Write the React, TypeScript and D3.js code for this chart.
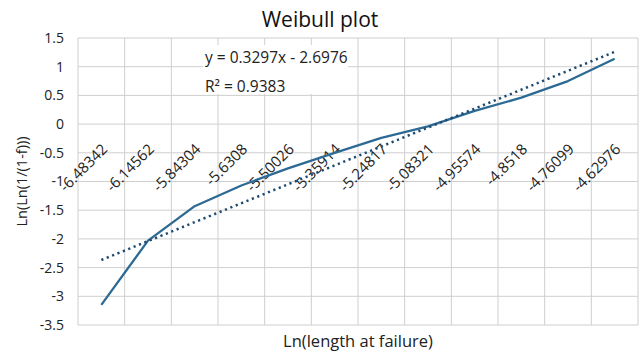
import * as d3 from 'd3'

// Weibull plot: category line + linear trendline
const categories = [
  '-6.48342', '-6.14562', '-5.84304', '-5.6308', '-5.50026', '-5.35914',
  '-5.24817', '-5.08321', '-4.95574', '-4.8518', '-4.76099', '-4.62976',
]
const lnValues = [-3.15, -2.03, -1.43, -1.07, -0.77, -0.5, -0.24, -0.04, 0.23, 0.46, 0.75, 1.14]
const yTicks = [-3.5, -3, -2.5, -2, -1.5, -1, -0.5, 0, 0.5, 1, 1.5]
const trendSlope = 0.3297
const trendIntercept = -2.6976
const trendR2 = 0.9383

const width = 640
const height = 354
const marginL = 78
const marginR = 2
const marginT = 38
const marginB = 29
const font = '"Open Sans", sans-serif'

export default function App() {
  const x = d3.scaleBand<string>()
    .domain(categories)
    .range([marginL, width - marginR])
    .padding(0)
  const y = d3.scaleLinear()
    .domain([-3.5, 1.5])
    .range([height - marginB, marginT])

  const bw = x.bandwidth()
  const cx = (c: string) => (x(c) as number) + bw / 2

  const line = d3.line<number>()
    .x((_, i) => cx(categories[i]))
    .y(d => y(d))

  // trendline uses category index 1..n, as Excel does
  const n = categories.length
  const trend = [1, n].map(i => ({ px: cx(categories[i - 1]), py: y(trendSlope * i + trendIntercept) }))

  const gridX = categories.map(c => x(c) as number).concat([width - marginR])
  const sign = trendIntercept < 0 ? '-' : '+'

  return (
    <svg width={width} height={height} style={{ position: 'absolute', left: 0, top: 0, background: '#fff' }}
      fontFamily={font}>
      <rect x={0} y={0} width={width} height={height} fill="#fff" />

      {/* gridlines */}
      {yTicks.map(t => (
        <line key={'h' + t} x1={marginL} x2={width - marginR} y1={y(t)} y2={y(t)} stroke="#cfcfcf" strokeWidth={1} />
      ))}
      {gridX.map((gx, i) => (
        <line key={'v' + i} x1={gx} x2={gx} y1={marginT} y2={height - marginB} stroke="#cfcfcf" strokeWidth={1} />
      ))}

      {/* equation label */}
      <rect x={203} y={45} width={145} height={49} fill="#fff" />
      <text x={205} y={63} fontSize={15.5} fill="#222">
        {`y = ${trendSlope}x ${sign} ${Math.abs(trendIntercept)}`}
      </text>
      <text x={205} y={92} fontSize={15.5} fill="#222">{`R² = ${trendR2}`}</text>

      {/* y tick labels */}
      {yTicks.map(t => (
        <text key={'yl' + t} x={64} y={y(t)} dy="0.35em" textAnchor="end" fontSize={14} fill="#222">
          {String(t)}
        </text>
      ))}

      {/* category labels, rotated, sitting under the zero line */}
      {categories.map(c => (
        <text key={'xl' + c} transform={`translate(${cx(c) + 7},${y(0) + 26}) rotate(-45)`}
          textAnchor="end" fontSize={15} fill="#222">
          {c}
        </text>
      ))}

      {/* data line */}
      <path d={line(lnValues) ?? ''} fill="none" stroke="#2c6a94" strokeWidth={2.3} strokeLinejoin="round" />

      {/* trendline */}
      <line x1={trend[0].px} y1={trend[0].py} x2={trend[1].px} y2={trend[1].py}
        stroke="#1f4a70" strokeWidth={2.5} strokeDasharray="2.2,3.6" />

      {/* titles */}
      <text x={width / 2} y={27} textAnchor="middle" fontSize={21} fill="#111">Weibull plot</text>
      <text x={(marginL + width - marginR) / 2} y={347} textAnchor="middle" fontSize={16.5} fill="#222">
        Ln(length at failure)
      </text>
      <text transform={`translate(27,${(marginT + height - marginB) / 2}) rotate(-90)`} textAnchor="middle"
        fontSize={14.5} fill="#222">
        Ln(Ln(1/(1-f)))
      </text>
    </svg>
  )
}
